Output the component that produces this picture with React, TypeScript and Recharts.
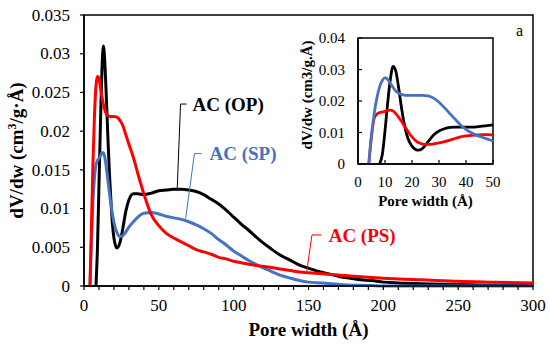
import React from 'react';
import { LineChart, Line, XAxis, YAxis, ReferenceArea, ReferenceLine, Label } from 'recharts';

const FONT = '"Liberation Serif", "Times New Roman", Times, serif';
const BLACK = '#000000';
const RED = '#FF0000';
const BLUE = '#4472C4';

// ---------- main chart data ----------
const poreWidth = [4, 5, 6, 7, 8, 9, 10, 11, 12, 13, 14, 15, 16, 17, 18, 19, 20, 22, 24, 26, 28, 30, 33, 36, 40, 45, 50, 55, 60, 65, 70, 75, 80, 85, 90, 95, 100, 105, 110, 117, 125, 131, 138, 144, 150, 158, 165, 171, 178, 185, 192, 200, 210, 225, 250, 275, 300];
const acOP = [null, null, null, null, 0, 0.005, 0.013, 0.021, 0.028, 0.031, 0.0285, 0.024, 0.019, 0.0145, 0.011, 0.008, 0.0062, 0.0049, 0.0056, 0.0075, 0.0097, 0.0111, 0.0119, 0.0119, 0.0118, 0.012, 0.0123, 0.0124, 0.0125, 0.0125, 0.0124, 0.0122, 0.0118, 0.0112, 0.0106, 0.0098, 0.0089, 0.008, 0.0072, 0.006, 0.0048, 0.004, 0.0033, 0.0027, 0.0023, 0.0018, 0.0015, 0.0012, 0.001, 0.0008, 0.0007, 0.0005, 0.0004, 0.0003, 0.0002, 0.0001, 0.0001];
const acSP = [0, 0.006, 0.011, 0.014, 0.0157, 0.0162, 0.0165, 0.0168, 0.0172, 0.0172, 0.0165, 0.0152, 0.0136, 0.012, 0.0106, 0.0093, 0.0082, 0.0069, 0.0064, 0.0065, 0.007, 0.0076, 0.0083, 0.0089, 0.0094, 0.0095, 0.0093, 0.009, 0.0088, 0.0086, 0.0083, 0.0079, 0.0074, 0.0068, 0.006, 0.0053, 0.0045, 0.0039, 0.0033, 0.0026, 0.0019, 0.0014, 0.001, 0.0007, 0.0005, 0.0004, 0.0003, 0.0002, 0.0001, 0.0001, 0.00005, 0, 0, 0, 0, 0, 0];
const acPS = [0, 0.008, 0.016, 0.022, 0.0258, 0.0271, 0.0268, 0.0256, 0.0244, 0.0234, 0.0227, 0.0222, 0.022, 0.0219, 0.0219, 0.0219, 0.0219, 0.0218, 0.0214, 0.0207, 0.0195, 0.0183, 0.0166, 0.0145, 0.0119, 0.0092, 0.0078, 0.0068, 0.0062, 0.0057, 0.0052, 0.0047, 0.0044, 0.0041, 0.0037, 0.0035, 0.0032, 0.003, 0.0028, 0.0026, 0.0024, 0.0022, 0.002, 0.0018, 0.0017, 0.0016, 0.0015, 0.0014, 0.0013, 0.0012, 0.0011, 0.001, 0.0009, 0.0008, 0.0006, 0.0005, 0.0004];

const xTicks = [0, 10, 20, 30, 40, 50, 60, 70, 80, 90, 100, 110, 120, 130, 140, 150, 160, 170, 180, 190, 200, 210, 220, 230, 240, 250, 260, 270, 280, 290, 300];
const xTickLabelEvery = 50;
const yTicks = [0, 0.005, 0.01, 0.015, 0.02, 0.025, 0.03, 0.035];
const yTickLabels = ['0', '0.005', '0.01', '0.015', '0.02', '0.025', '0.03', '0.035'];

// annotation leaders (data coordinates): [bottom point, corner, end of horizontal]
const opLeader = [[62.3, 0.0126], [64.5, 0.0235], [68.5, 0.0235]];
const spLeader = [[67.9, 0.0087], [73.8, 0.0171], [78.5, 0.0171]];
const psLeader = [[148.8, 0.00185], [152.3, 0.00659], [158.8, 0.00659]];

// ---------- inset data ----------
const insetWidth = [3, 4, 5, 6, 7, 8, 9, 10, 11, 12, 13, 14, 15, 16, 17, 18, 19, 20, 21, 22, 23, 24, 25, 26, 28, 30, 32, 34, 36, 38, 40, 42, 44, 46, 48, 50];
const insetOP = [null, null, null, null, null, 0, 0.003, 0.0105, 0.0195, 0.027, 0.031, 0.0295, 0.0245, 0.0185, 0.0133, 0.0095, 0.0071, 0.0057, 0.0048, 0.0044, 0.0045, 0.005, 0.006, 0.0071, 0.0092, 0.0105, 0.0112, 0.0116, 0.0117, 0.0117, 0.0117, 0.0117, 0.0118, 0.012, 0.0122, 0.0124];
const insetSP = [null, 0, 0.009, 0.0145, 0.0158, 0.0163, 0.0165, 0.0167, 0.017, 0.0171, 0.0168, 0.016, 0.0149, 0.0137, 0.0123, 0.011, 0.0097, 0.0086, 0.0077, 0.007, 0.0066, 0.0063, 0.0062, 0.0062, 0.0064, 0.0067, 0.0071, 0.0076, 0.0081, 0.0086, 0.0089, 0.0091, 0.0092, 0.0093, 0.0093, 0.0092];
const insetPS = [null, 0, 0.009, 0.016, 0.021, 0.0245, 0.0265, 0.0274, 0.0268, 0.0256, 0.0243, 0.0232, 0.0225, 0.0221, 0.0219, 0.0218, 0.0218, 0.0218, 0.0218, 0.0218, 0.0218, 0.0218, 0.0217, 0.0216, 0.0209, 0.0196, 0.0179, 0.016, 0.0142, 0.0124, 0.011, 0.0099, 0.0091, 0.0085, 0.0079, 0.0073];
const insetXTicks = [0, 10, 20, 30, 40, 50];
const insetYTicks = [0, 0.01, 0.02, 0.03, 0.04];
const insetYTickLabels = ['0', '0.01', '0.02', '0.03', '0.04'];

const mainData = poreWidth.map((w, i) => ({ w, op: acOP[i], sp: acSP[i], ps: acPS[i] }));
const insetData = insetWidth.map((w, i) => ({ w, op: insetOP[i], sp: insetSP[i], ps: insetPS[i] }));

const seg = (pts: number[][], a: number, b: number) => [
  { x: pts[a][0], y: pts[a][1] },
  { x: pts[b][0], y: pts[b][1] },
];

const annLabel = (value: string, color: string, offset: number) => ({
  value,
  position: 'right' as const,
  offset,
  fill: color,
  fontSize: 19,
  fontWeight: 'bold',
  fontFamily: FONT,
});

const makeXTick = (size: number, fmt: (v: number) => string) => (props: any) => {
  const { x, y, payload } = props;
  return (
    <text x={x} y={y} dy={size * 0.71} textAnchor="middle" fontFamily={FONT} fontSize={size} fill="#000">
      {fmt(payload.value)}
    </text>
  );
};

const makeYTick = (size: number, ticks: number[], labels: string[]) => (props: any) => {
  const { x, y, payload } = props;
  const i = ticks.indexOf(payload.value);
  return (
    <text x={x} y={y} dy={size * 0.34} textAnchor="end" fontFamily={FONT} fontSize={size} fill="#000">
      {i >= 0 ? labels[i] : String(payload.value)}
    </text>
  );
};

const MainXTick = makeXTick(17, (v) => (v % xTickLabelEvery === 0 ? String(v) : ''));
const MainYTick = makeYTick(17, yTicks, yTickLabels);
const InsetXTick = makeXTick(15, (v) => String(v));
const InsetYTick = makeYTick(15, insetYTicks, insetYTickLabels);

const MainXTitle = (props: any) => {
  const vb = props.viewBox;
  return (
    <text x={vb.x + vb.width / 2} y={vb.y + 50} textAnchor="middle" fontFamily={FONT} fontSize={19} fontWeight="bold" fill="#000">
      Pore width (Å)
    </text>
  );
};

const MainYTitle = (props: any) => {
  const vb = props.viewBox;
  const cx = vb.x + 22.5;
  const cy = vb.y + vb.height / 2;
  return (
    <text x={cx} y={cy} transform={`rotate(-90 ${cx} ${cy})`} textAnchor="middle" fontFamily={FONT} fontSize={19} fontWeight="bold" fill="#000">
      dV/dw (cm<tspan dy={-7} fontSize={12}>3</tspan><tspan dy={7}>/g·Å)</tspan>
    </text>
  );
};

const InsetXTitle = (props: any) => {
  const vb = props.viewBox;
  return (
    <text x={vb.x + vb.width / 2} y={vb.y + 42} textAnchor="middle" fontFamily={FONT} fontSize={15} fontWeight="bold" fill="#000">
      Pore width (Å)
    </text>
  );
};

const InsetYTitle = (props: any) => {
  const vb = props.viewBox;
  const cx = vb.x + 12;
  const cy = vb.y + vb.height / 2 - 6;
  return (
    <text x={cx} y={cy} transform={`rotate(-90 ${cx} ${cy})`} textAnchor="middle" fontFamily={FONT} fontSize={15} fontWeight="bold" fill="#000">
      dV/dw (cm3/g.Å)
    </text>
  );
};

export default function App() {
  return (
    <div style={{ position: 'absolute', left: 0, top: 0, width: 550, height: 349, background: '#fff', fontFamily: FONT }}>
      <LineChart width={550} height={349} data={mainData} margin={{ top: 15, right: 17, bottom: 0, left: 0 }} style={{ fontFamily: FONT }}>
        <XAxis
          dataKey="w"
          type="number"
          domain={[0, 300]}
          ticks={xTicks}
          interval={0}
          height={63}
          tickSize={4}
          tickMargin={9}
          tick={MainXTick}
          axisLine={{ stroke: '#000', strokeWidth: 1.5 }}
          tickLine={{ stroke: '#000', strokeWidth: 1.2 }}
        >
          <Label content={MainXTitle} />
        </XAxis>
        <YAxis
          type="number"
          domain={[0, 0.035]}
          ticks={yTicks}
          interval={0}
          width={84}
          tickSize={4}
          tickMargin={10}
          tick={MainYTick}
          axisLine={{ stroke: '#000', strokeWidth: 1.5 }}
          tickLine={{ stroke: '#000', strokeWidth: 1.2 }}
        >
          <Label content={MainYTitle} />
        </YAxis>
        <ReferenceArea
          x1={0}
          x2={300}
          y1={0}
          y2={0.035}
          fill="none"
          fillOpacity={0}
          stroke="#000"
          strokeWidth={1.5}
          label={{ value: 'a', position: 'insideTopRight', offset: 10, fill: '#000', fontSize: 16, fontFamily: FONT }}
        />
        <Line type="monotone" dataKey="op" stroke={BLACK} strokeWidth={3} dot={false} activeDot={false} isAnimationActive={false} />
        <Line type="monotone" dataKey="sp" stroke={BLUE} strokeWidth={3} dot={false} activeDot={false} isAnimationActive={false} />
        <Line type="monotone" dataKey="ps" stroke={RED} strokeWidth={3} dot={false} activeDot={false} isAnimationActive={false} />
        <ReferenceLine segment={seg(opLeader, 0, 1)} stroke={BLACK} strokeWidth={1} />
        <ReferenceLine segment={seg(opLeader, 1, 2)} stroke={BLACK} strokeWidth={1} label={annLabel('AC (OP)', BLACK, 6)} />
        <ReferenceLine segment={seg(spLeader, 0, 1)} stroke={BLUE} strokeWidth={1} />
        <ReferenceLine segment={seg(spLeader, 1, 2)} stroke={BLUE} strokeWidth={1} label={annLabel('AC (SP)', BLUE, 8)} />
        <ReferenceLine segment={seg(psLeader, 0, 1)} stroke={RED} strokeWidth={1} />
        <ReferenceLine segment={seg(psLeader, 1, 2)} stroke={RED} strokeWidth={1} label={annLabel('AC (PS)', RED, 7)} />
      </LineChart>

      <div style={{ position: 'absolute', left: 300, top: 15, width: 220, height: 200 }}>
        <LineChart width={220} height={200} data={insetData} margin={{ top: 23, right: 27, bottom: 0, left: 0 }} style={{ fontFamily: FONT }}>
          <XAxis
            dataKey="w"
            type="number"
            domain={[0, 50]}
            ticks={insetXTicks}
            interval={0}
            height={51}
            tickSize={-4}
            tickMargin={16}
            tick={InsetXTick}
            axisLine={{ stroke: '#000', strokeWidth: 1.5 }}
            tickLine={{ stroke: '#000', strokeWidth: 1.2 }}
          >
            <Label content={InsetXTitle} />
          </XAxis>
          <YAxis
            type="number"
            domain={[0, 0.04]}
            ticks={insetYTicks}
            interval={0}
            width={58}
            tickSize={-4}
            tickMargin={17}
            tick={InsetYTick}
            axisLine={{ stroke: '#000', strokeWidth: 1.5 }}
            tickLine={{ stroke: '#000', strokeWidth: 1.2 }}
          >
            <Label content={InsetYTitle} />
          </YAxis>
          <ReferenceArea x1={0} x2={50} y1={0} y2={0.04} fill="none" fillOpacity={0} stroke="#000" strokeWidth={1.5} />
          <Line type="monotone" dataKey="op" stroke={BLACK} strokeWidth={2.8} dot={false} activeDot={false} isAnimationActive={false} />
          <Line type="monotone" dataKey="sp" stroke={RED} strokeWidth={2.8} dot={false} activeDot={false} isAnimationActive={false} />
          <Line type="monotone" dataKey="ps" stroke={BLUE} strokeWidth={2.8} dot={false} activeDot={false} isAnimationActive={false} />
        </LineChart>
      </div>
    </div>
  );
}
